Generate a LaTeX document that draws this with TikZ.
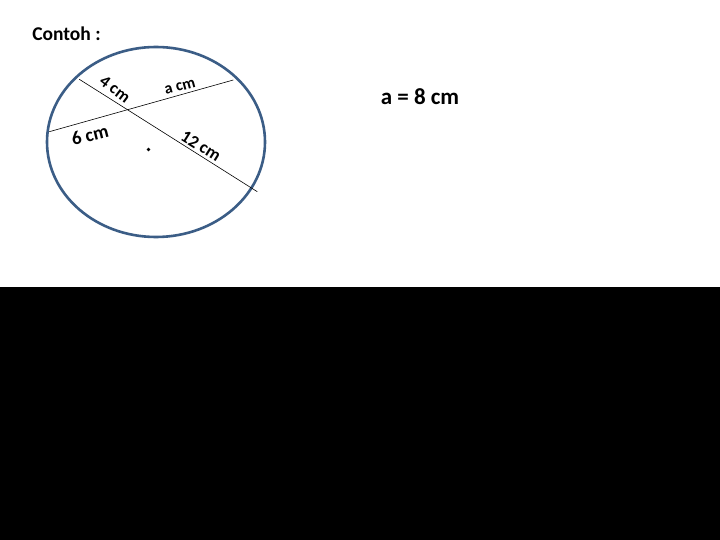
\documentclass[tikz,border=0pt]{standalone}
\usepackage{fontspec}
\setmainfont{Carlito}
\definecolor{rim}{HTML}{3B5D86}
\tikzset{lbl/.style={font=\bfseries, inner sep=0pt}}
\begin{document}
\begin{tikzpicture}[x=1pt,y=-1pt]
\useasboundingbox (0,0) rectangle (720,540);
\fill[white] (0,0) rectangle (720,287);
\fill[black] (0,287) rectangle (720,540);
\node[lbl, font=\bfseries\fontsize{19.5}{22}\selectfont] (title) at (66.5,34) {Contoh :};
\node[lbl, font=\bfseries\fontsize{23}{26}\selectfont] (ans) at (420,97) {a = 8 cm};
\draw[rim, line width=2.6pt] (156,142) ellipse [x radius=109, y radius=95];
\coordinate (p1) at (79.3,79.3);
\coordinate (p2) at (257.3,191.7);
\coordinate (q1) at (49.3,131.7);
\coordinate (q2) at (233.3,80);
\draw[line width=0.6pt] (p1) -- (p2);
\draw[line width=0.6pt] (q1) -- (q2);
\fill (148.5,149.5) circle [radius=1.9];
\node[lbl, font=\bfseries\fontsize{17}{20}\selectfont, rotate=-37] (l4) at (115,89) {4 cm};
\node[lbl, font=\bfseries\fontsize{16}{19}\selectfont, rotate=15] (la) at (180,87) {a cm};
\node[lbl, font=\bfseries\fontsize{19}{22}\selectfont, rotate=14] (l6) at (90,135) {6 cm};
\node[lbl, font=\bfseries\fontsize{17.5}{20}\selectfont, rotate=-32] (l12) at (201,146) {12 cm};
\end{tikzpicture}
\end{document}
